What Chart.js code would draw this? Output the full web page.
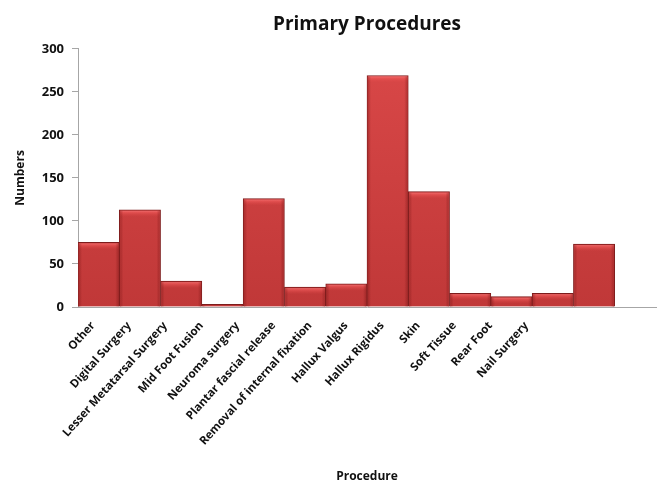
<!DOCTYPE html>
<html>
<head>
<meta charset="utf-8">
<script src="https://cdn.jsdelivr.net/npm/chart.js@4"></script>
<style>
  html, body { margin: 0; padding: 0; background: #fff; }
  #wrap { width: 657px; height: 483px; }
</style>
</head>
<body>
<div id="wrap"><canvas id="c" width="657" height="483"></canvas></div>
<script>
// Procedure categories (the trailing blank slot keeps an empty column at the right)
const categories = [
  'Other', 'Digital Surgery', 'Lesser Metatarsal Surgery', 'Mid Foot Fusion',
  'Neuroma surgery', 'Plantar fascial release', 'Removal of internal fixation',
  'Hallux Valgus', 'Hallux Rigidus', 'Skin', 'Soft Tissue', 'Rear Foot',
  'Nail Surgery', ''
];
// Number of primary procedures per category
const numbers = [75, 113, 30, 3, 126, 23, 27, 269, 134, 16, 12, 16, 73, null];
// Y axis ticks
const yTicks = [0, 50, 100, 150, 200, 250, 300];
// Names printed under the axis, on a slightly tighter pitch than the bars
const axisLabels = categories.filter(n => n !== '').concat(['', '', '']);

const FONT = '"Open Sans", Lato, "DejaVu Sans", sans-serif';

// Vertical red gradient for the bar bodies
function barFill(ctx) {
  const area = ctx.chart.chartArea;
  if (!area) return '#c83c3c';
  const g = ctx.chart.ctx.createLinearGradient(0, area.top, 0, area.bottom);
  g.addColorStop(0, '#da4848');
  g.addColorStop(1, '#c03838');
  return g;
}

// Bevel effect: light strip on top, darker strips on the sides
const bevel = {
  id: 'bevel',
  afterDatasetsDraw(chart) {
    const c = chart.ctx;
    chart.getDatasetMeta(0).data.forEach(bar => {
      const { x, y, base, width } = bar.getProps(['x', 'y', 'base', 'width'], true);
      if (y == null || isNaN(y)) return;
      const left = x - width / 2, h = base - y;
      if (h <= 1) return;
      c.save();
      const topH = Math.min(7, h - 1);
      const g = c.createLinearGradient(0, y, 0, y + topH);
      g.addColorStop(0, 'rgba(255,150,150,0.8)');
      g.addColorStop(0.35, 'rgba(245,95,95,0.6)');
      g.addColorStop(1, 'rgba(225,70,70,0)');
      c.fillStyle = g;
      c.fillRect(left + 1, y + 1, width - 2, topH);
      // side shading
      const sl = c.createLinearGradient(left, 0, left + 4, 0);
      sl.addColorStop(0, 'rgba(110,15,15,0.45)');
      sl.addColorStop(1, 'rgba(110,15,15,0)');
      c.fillStyle = sl;
      c.fillRect(left + 1, y + 1, 4, h - 1);
      const sr = c.createLinearGradient(left + width - 4, 0, left + width, 0);
      sr.addColorStop(0, 'rgba(110,15,15,0)');
      sr.addColorStop(1, 'rgba(110,15,15,0.45)');
      c.fillStyle = sr;
      c.fillRect(left + width - 5, y + 1, 4, h - 1);
      c.restore();
    });
  }
};

new Chart(document.getElementById('c'), {
  type: 'bar',
  data: {
    labels: categories,
    datasets: [{
      data: numbers,
      backgroundColor: barFill,
      borderColor: '#7e1c1c',
      borderWidth: 1,
      barPercentage: 1,
      categoryPercentage: 1,
      xAxisID: 'x',
      yAxisID: 'y'
    }]
  },
  options: {
    responsive: false,
    animation: false,
    layout: { padding: { left: 0, right: 1, top: 0, bottom: 0 } },
    plugins: {
      legend: { display: false },
      tooltip: { enabled: false },
      title: {
        display: true,
        text: 'Primary Procedures',
        fullSize: false,
        color: '#111',
        font: { family: FONT, size: 19, weight: 'bold', lineHeight: 1.2 },
        padding: { top: 13, bottom: 13 }
      }
    },
    scales: {
      // category axis that places the bars; draws the baseline only
      x: {
        type: 'category',
        position: 'bottom',
        weight: 0,
        grid: { display: false },
        border: { display: true, color: '#a6a6a6', width: 1 },
        ticks: { display: false },
        afterFit(scale) { scale.height = 0; }
      },
      // label axis: the rotated procedure names and the axis title
      xl: {
        type: 'category',
        position: 'bottom',
        weight: 1,
        labels: axisLabels,
        offset: true,
        grid: { display: false },
        border: { display: false },
        ticks: {
          color: '#111',
          font: { family: FONT, size: 11.5, weight: 'bold' },
          maxRotation: 48, minRotation: 48,
          autoSkip: false,
          padding: 4,
          labelOffset: -3
        },
        title: {
          display: true,
          text: 'Procedure',
          color: '#111',
          font: { family: FONT, size: 12, weight: 'bold', lineHeight: 1 },
          padding: { top: 0, bottom: 0 }
        },
        afterFit(scale) { scale.height = 176; }
      },
      y: {
        min: 0, max: 300,
        afterBuildTicks(scale) { scale.ticks = yTicks.map(v => ({ value: v })); },
        grid: {
          display: true, drawOnChartArea: false, drawTicks: true,
          tickLength: 6, color: '#a6a6a6'
        },
        border: { display: true, color: '#a6a6a6', width: 1 },
        ticks: {
          color: '#111',
          font: { family: FONT, size: 13, weight: 'bold' },
          padding: 8
        },
        title: {
          display: true,
          text: 'Numbers',
          color: '#111',
          font: { family: FONT, size: 12, weight: 'bold', lineHeight: 1.2 },
          padding: { top: 13, bottom: 0 }
        },
        afterFit(scale) { scale.width = 78; }
      }
    }
  },
  plugins: [bevel]
});
</script>
</body>
</html>
